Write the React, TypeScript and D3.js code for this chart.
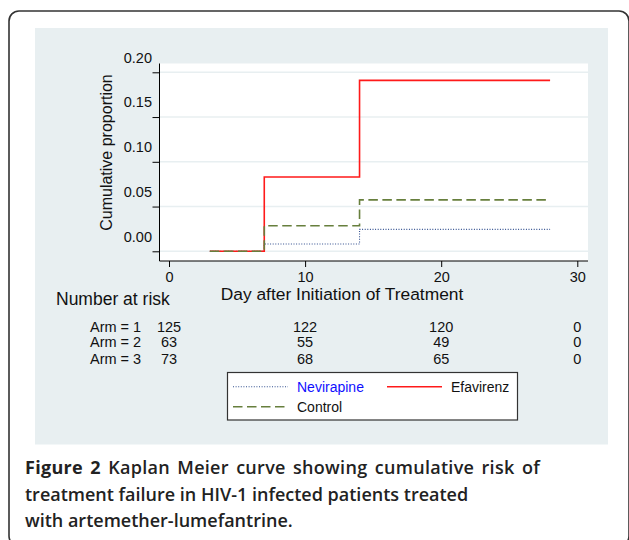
import { useEffect, useRef } from "react";
import * as d3 from "d3";

// Kaplan Meier data (day, cumulative proportion)
const days = [3, 7, 14, 28];
const nevirapine = [0, 0.0082, 0.0245, 0.0245];
const efavirenz = [0, 0.083, 0.191, 0.191];
const control = [0, 0.0286, 0.0575, 0.0575];

const xTicks = [0, 10, 20, 30];
const yTicks = [0, 0.05, 0.1, 0.15, 0.2];

const riskDays = [0, 10, 20, 30];
const armLabels = ["Arm = 1", "Arm = 2", "Arm = 3"];
const arm1Risk = [125, 122, 120, 0];
const arm2Risk = [63, 55, 49, 0];
const arm3Risk = [73, 68, 65, 0];

const captionBold = "Figure 2";
const captionLines = [
    " Kaplan Meier curve showing cumulative risk of",
    "treatment failure in HIV-1 infected patients treated",
    "with artemether-lumefantrine.",
];

const W = 629;
const H = 540;
const font = "'Liberation Sans', Arial, sans-serif";

const App = () => {
    const svgRef = useRef(null);

    useEffect(() => {
        const svg = d3.select(svgRef.current);
        svg.selectAll("*").remove();

        // outer frame and grey panel
        svg.append("rect")
            .attr("x", 9).attr("y", 11).attr("width", 620).attr("height", 535)
            .attr("rx", 10)
            .attr("fill", "white").attr("stroke", "#333").attr("stroke-width", 1.6);
        svg.append("rect")
            .attr("x", 35).attr("y", 28).attr("width", 573).attr("height", 416.5)
            .attr("fill", "#e8eff1");

        const plot = { left: 159.5, right: 588, top: 63.5, bottom: 261 };
        svg.append("rect")
            .attr("x", plot.left).attr("y", plot.top)
            .attr("width", plot.right - plot.left).attr("height", plot.bottom - plot.top)
            .attr("fill", "white");

        const xScale = d3.scaleLinear().domain([0, 30]).range([169, 577.3]);
        const yScale = d3.scaleLinear().domain([0, 0.2]).range([251.3, 72.3]);

        // grid lines
        svg.append("g")
            .selectAll("line")
            .data(yTicks)
            .enter()
            .append("line")
            .attr("x1", plot.left).attr("x2", plot.right)
            .attr("y1", (d) => yScale(d)).attr("y2", (d) => yScale(d))
            .attr("stroke", "#e8eff1").attr("stroke-width", 1.6);

        // Y axis (labels sit above their ticks, as in the original)
        const yAxis = svg.append("g")
            .attr("transform", `translate(${plot.left}, 0)`)
            .call(d3.axisLeft(yScale).tickValues(yTicks).tickFormat(d3.format(".2f")).tickSize(7).tickSizeOuter(0));
        yAxis.select(".domain").attr("d", `M0,${plot.top}V${plot.bottom}`).attr("stroke", "#000");
        yAxis.selectAll("text")
            .attr("x", -7.5).attr("dy", "-0.7em")
            .style("font-family", font).style("font-size", "14.5px").attr("fill", "#111");

        // X axis
        const xAxis = svg.append("g")
            .attr("transform", `translate(0, ${plot.bottom})`)
            .call(d3.axisBottom(xScale).tickValues(xTicks).tickSize(6).tickSizeOuter(0));
        xAxis.select(".domain").attr("d", `M${plot.left},0H${plot.right}`).attr("stroke", "#000");
        xAxis.selectAll("text")
            .attr("y", 11).attr("dy", "0.71em")
            .style("font-family", font).style("font-size", "14.5px").attr("fill", "#111");

        // axis titles
        svg.append("text")
            .attr("transform", `translate(112, 152.5) rotate(-90)`)
            .attr("text-anchor", "middle")
            .style("font-family", font).style("font-size", "16px").attr("fill", "#111")
            .text("Cumulative proportion");
        svg.append("text")
            .attr("x", 342).attr("y", 299.5)
            .attr("text-anchor", "middle")
            .style("font-family", font).style("font-size", "17.4px").attr("fill", "#111")
            .text("Day after Initiation of Treatment");

        // curves
        const line = d3.line()
            .x((d) => xScale(d[0]))
            .y((d) => yScale(d[1]))
            .curve(d3.curveStepAfter);
        const pts = (vals) => days.map((t, i) => [t, vals[i]]);

        svg.append("path").attr("d", line(pts(nevirapine)))
            .attr("fill", "none").attr("stroke", "#33508f").attr("stroke-width", 1.1)
            .attr("stroke-dasharray", "1 1.6");
        svg.append("path").attr("d", line(pts(efavirenz)))
            .attr("fill", "none").attr("stroke", "#ff1a1a").attr("stroke-width", 1.6);
        svg.append("path").attr("d", line(pts(control)))
            .attr("fill", "none").attr("stroke", "#677f3d").attr("stroke-width", 1.6)
            .attr("stroke-dasharray", "9.5 4.5");

        // number at risk table, aligned with the day axis
        svg.append("text")
            .attr("x", 56).attr("y", 304.5)
            .style("font-family", font).style("font-size", "17.5px").attr("fill", "#111")
            .text("Number at risk");
        const rows = [arm1Risk, arm2Risk, arm3Risk];
        const rowY = [331.5, 347.3, 363.5];
        rows.forEach((row, r) => {
            svg.append("text")
                .attr("x", 90).attr("y", rowY[r])
                .style("font-family", font).style("font-size", "14.5px").attr("fill", "#111")
                .text(armLabels[r]);
            svg.append("g")
                .selectAll("text")
                .data(row)
                .enter()
                .append("text")
                .attr("x", (d, i) => xScale(riskDays[i]))
                .attr("y", rowY[r])
                .attr("text-anchor", "middle")
                .style("font-family", font).style("font-size", "14.5px").attr("fill", "#111")
                .text((d) => d);
        });

        // legend
        const lg = svg.append("g");
        lg.append("rect")
            .attr("x", 227.5).attr("y", 372.5).attr("width", 290).attr("height", 47.5)
            .attr("fill", "white").attr("stroke", "#333").attr("stroke-width", 1.2);
        const legendItems = [
            { label: "Nevirapine", x: 233, y: 386.7, stroke: "#33508f", w: 1.1, dash: "1 1.6", text: "#1010ff" },
            { label: "Efavirenz", x: 387, y: 386.7, stroke: "#ff1a1a", w: 1.6, dash: null, text: "#111" },
            { label: "Control", x: 233, y: 406.7, stroke: "#677f3d", w: 1.6, dash: "9.5 4.5", text: "#111" },
        ];
        legendItems.forEach((it) => {
            lg.append("line")
                .attr("x1", it.x).attr("x2", it.x + 55)
                .attr("y1", it.y).attr("y2", it.y)
                .attr("stroke", it.stroke).attr("stroke-width", it.w)
                .attr("stroke-dasharray", it.dash);
            lg.append("text")
                .attr("x", it.x + 64).attr("y", it.y + 5.6)
                .style("font-family", font).style("font-size", "14px").attr("fill", it.text)
                .text(it.label);
        });

        // caption (first line is set a little wider in the original)
        const cap = svg.append("g")
            .style("font-family", "'Open Sans', Lato, sans-serif")
            .style("font-size", "18px").attr("fill", "#222");
        const baselines = [474, 500.5, 527];
        captionLines.forEach((txt, i) => {
            const t = cap.append("text").attr("x", 25).attr("y", baselines[i]);
            if (i === 0) {
                t.style("word-spacing", "2.3px").style("letter-spacing", "0.3px");
                t.append("tspan").attr("font-weight", "bold").text(captionBold);
            }
            t.append("tspan").attr("font-weight", "600").text(txt);
        });
    }, []);

    return (
        <svg
            ref={svgRef}
            width={W}
            height={H}
            viewBox={`0 0 ${W} ${H}`}
            style={{ position: "absolute", left: 0, top: 0 }}
        ></svg>
    );
};

export default App;
